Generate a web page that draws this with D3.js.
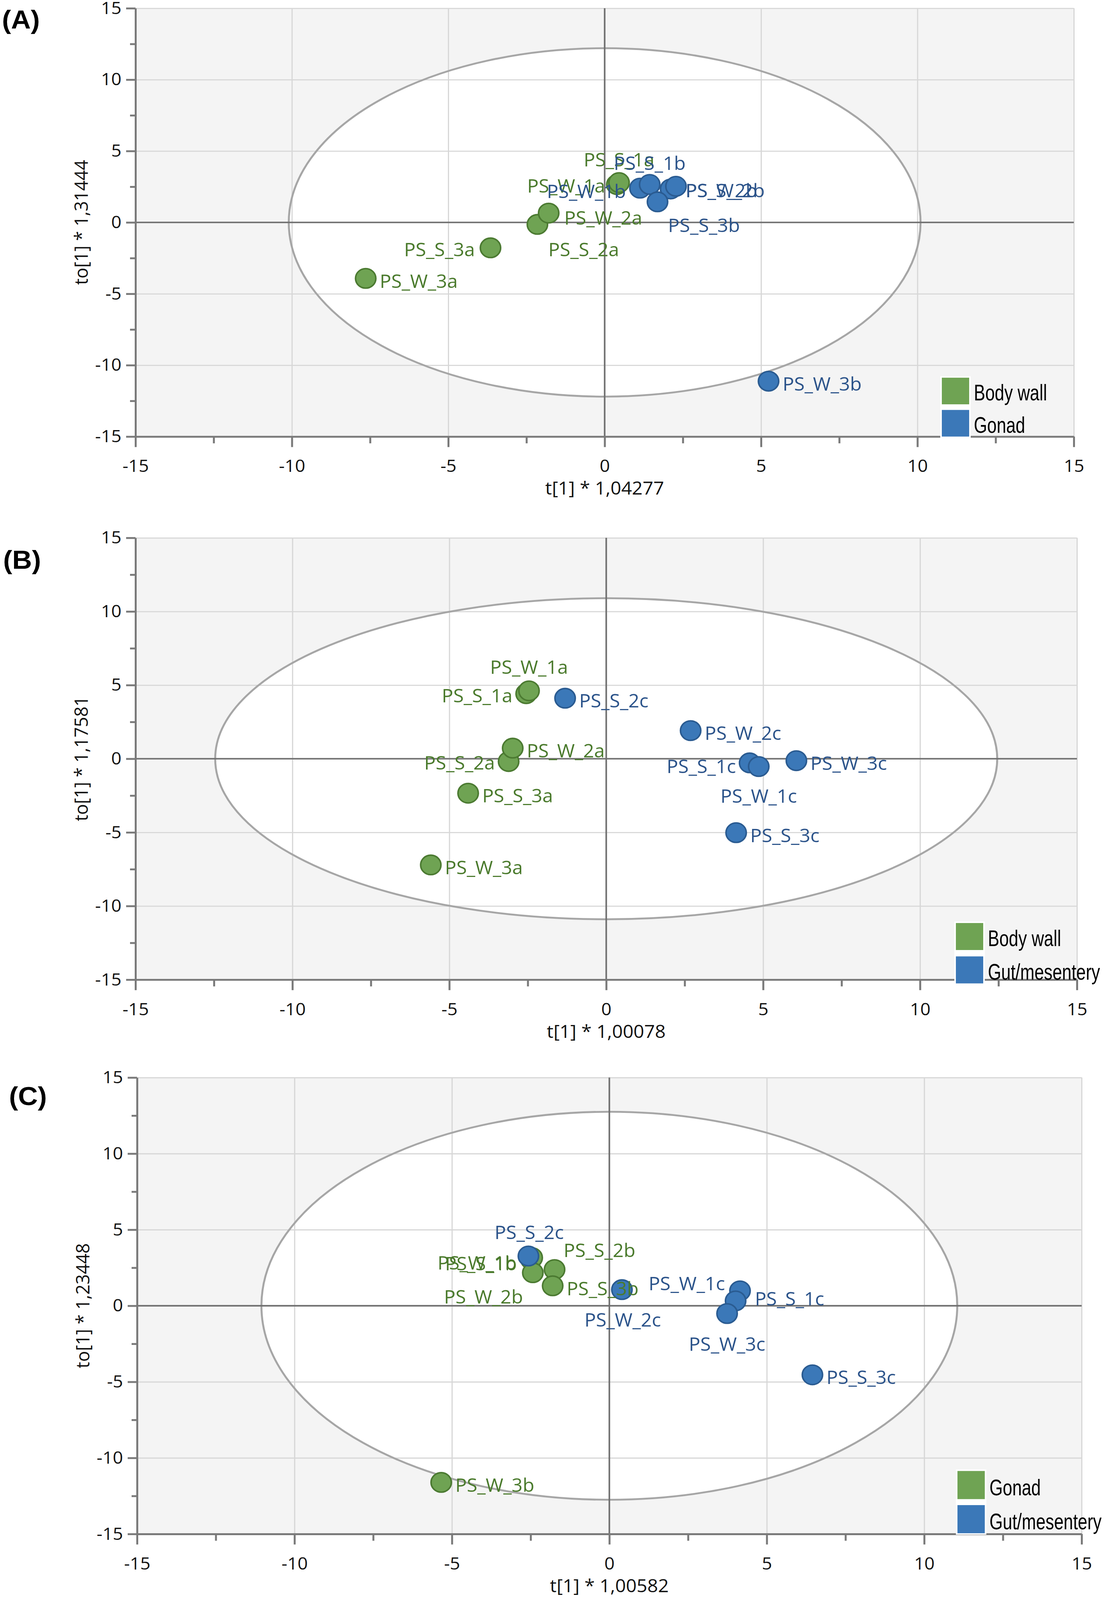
<!DOCTYPE html>
<html>
<head>
<meta charset="utf-8">
<script src="https://cdn.jsdelivr.net/npm/d3@7"></script>
<style>
  html, body { margin: 0; padding: 0; background: #fff; overflow: hidden; }
  svg { display: block; }
</style>
</head>
<body>
<div id="chart"></div>
<script>
//ticks
const majorTicks = [-15, -10, -5, 0, 5, 10, 15];
const minorTicks = [-12.5, -7.5, -2.5, 2.5, 7.5, 12.5];
const tickLabels = ["-15", "-10", "-5", "0", "5", "10", "15"];

//texts
const panelTags = ["(A)", "(B)", "(C)"];
const xTitles = ["t[1] * 1,04277", "t[1] * 1,00078", "t[1] * 1,00582"];
const yTitles = ["to[1] * 1,31444", "to[1] * 1,17581", "to[1] * 1,23448"];
const legendLabels = [["Body wall", "Gonad"], ["Body wall", "Gut/mesentery"], ["Gonad", "Gut/mesentery"]];

//Hotelling T2 ellipse half axes (t, to)
const ellipseRadii = [[10.1, 12.2], [12.46, 10.9], [11.05, 12.75]];

//panel A scores (group 0 = green, 1 = blue)
const namesA = ["PS_W_1a", "PS_S_1a", "PS_S_2a", "PS_W_2a", "PS_S_3a", "PS_W_3a",
                "PS_W_1b", "PS_S_1b", "PS_S_2b", "PS_W_2b", "PS_S_3b", "PS_W_3b"];
const tA  = [0.39, 0.46, -2.15, -1.79, -3.65, -7.64, 1.13, 1.44, 2.11, 2.28, 1.69, 5.24];
const toA = [2.65, 2.79, -0.14, 0.65, -1.78, -3.92, 2.40, 2.66, 2.34, 2.53, 1.44, -11.12];
const groupA = [0, 0, 0, 0, 0, 0, 1, 1, 1, 1, 1, 1];

//panel B scores
const namesB = ["PS_S_1a", "PS_W_1a", "PS_S_2a", "PS_W_2a", "PS_S_3a", "PS_W_3a",
                "PS_S_2c", "PS_W_2c", "PS_S_1c", "PS_W_1c", "PS_W_3c", "PS_S_3c"];
const tB  = [-2.55, -2.46, -3.11, -2.98, -4.40, -5.59, -1.31, 2.69, 4.57, 4.86, 6.06, 4.14];
const toB = [4.42, 4.61, -0.19, 0.72, -2.34, -7.21, 4.11, 1.91, -0.28, -0.53, -0.13, -5.02];
const groupB = [0, 0, 0, 0, 0, 0, 1, 1, 1, 1, 1, 1];

//panel C scores
const namesC = ["PS_S_1b", "PS_W_1b", "PS_S_2b", "PS_W_2b", "PS_S_3b", "PS_W_3b",
                "PS_S_2c", "PS_W_2c", "PS_S_1c", "PS_W_1c", "PS_W_3c", "PS_S_3c"];
const tC  = [-2.49, -2.45, -1.74, -2.43, -1.80, -5.34, -2.57, 0.40, 4.15, 4.01, 3.74, 6.45];
const toC = [3.05, 3.16, 2.38, 2.17, 1.31, -11.61, 3.27, 1.06, 0.98, 0.32, -0.51, -4.54];
const groupC = [0, 0, 0, 0, 0, 0, 1, 1, 1, 1, 1, 1];

//label offsets from the point centre [dx, dy, anchor]; default is right
const labelRight = [36, 6, "start"];
const labelPlace = [
  { "PS_S_1a": [0, -62, "middle"], "PS_W_1a": [-30, 2, "end"], "PS_S_1b": [0, -58, "middle"],
    "PS_W_1b": [-36, 8, "end"], "PS_S_2b": [38, 3, "start"], "PS_W_2b": [25, 10, "start"],
    "PS_S_3b": [27, 62, "start"], "PS_W_2a": [40, 12, "start"], "PS_S_2a": [28, 66, "start"],
    "PS_S_3a": [-40, 4, "end"] },
  { "PS_W_1a": [0, -64, "middle"], "PS_S_1a": [-35, 4, "end"], "PS_S_2a": [-35, 2, "end"],
    "PS_S_1c": [-35, 8, "end"], "PS_W_1c": [0, 78, "middle"] },
  { "PS_S_2c": [2, -64, "middle"], "PS_W_1b": [-40, 13, "end"], "PS_S_1b": [-36, 10, "end"],
    "PS_S_2b": [23, -52, "start"], "PS_W_2b": [-25, 63, "end"], "PS_W_2c": [2, 80, "middle"],
    "PS_S_1c": [38, 20, "start"], "PS_W_1c": [-27, -47, "end"], "PS_W_3c": [0, 80, "middle"] }
];

//page layout (in reference pixels, fitted to the window by the viewBox)
const width = 2835;
const height = 4266;
const layout = [
  { left: 347, right: 2750, top: 22, bottom: 1164, tag: [5, 76], legend: { x: 2412, y: 1007, h: 71, step: 86 } },
  { left: 347, right: 2758, top: 1434, bottom: 2612, tag: [8, 1516], legend: { x: 2448, y: 2461, h: 72, step: 89 } },
  { left: 351, right: 2770, top: 2873, bottom: 4090, tag: [23, 2946], legend: { x: 2452, y: 3922, h: 75, step: 91 } }
];

const fill = ["#6fa353", "#3b78b8"];
const edge = ["#4b7a31", "#2a5b91"];
const textCol = ["#4a7a2c", "#2b538a"];
const font = "'Open Sans', 'Noto Sans', sans-serif";

const svg = d3.select("#chart")
  .append("svg")
  .attr("viewBox", `0 0 ${width} ${height}`)
  .attr("preserveAspectRatio", "none")
  .attr("width", window.innerWidth || width)
  .attr("height", window.innerHeight || height);

const panels = [
  { names: namesA, t: tA, to: toA, group: groupA },
  { names: namesB, t: tB, to: toB, group: groupB },
  { names: namesC, t: tC, to: toC, group: groupC }
];

panels.forEach((p, i) => {
  const box = layout[i];
  const g = svg.append("g");

  const x = d3.scaleLinear().domain([-15, 15]).range([box.left, box.right]);
  const y = d3.scaleLinear().domain([-15, 15]).range([box.bottom, box.top]);
  const w = box.right - box.left;
  const h = box.bottom - box.top;

  //plot background
  g.append("rect")
    .attr("x", x(-15)).attr("y", y(15))
    .attr("width", w).attr("height", h)
    .attr("fill", "#f4f4f4");

  //ellipse fill
  const [ra, rb] = ellipseRadii[i];
  g.append("ellipse")
    .attr("cx", x(0)).attr("cy", y(0))
    .attr("rx", x(ra) - x(0)).attr("ry", y(0) - y(rb))
    .attr("fill", "#fff");

  //grid
  g.append("g")
    .attr("transform", `translate(0,${box.bottom})`)
    .call(d3.axisBottom(x).tickValues(majorTicks).tickSize(-h).tickFormat(""))
    .call(a => a.select(".domain").remove())
    .selectAll("line").attr("stroke", "#d7d7d7").attr("stroke-width", 3);
  g.append("g")
    .attr("transform", `translate(${box.left},0)`)
    .call(d3.axisLeft(y).tickValues(majorTicks).tickSize(-w).tickFormat(""))
    .call(a => a.select(".domain").remove())
    .selectAll("line").attr("stroke", "#d7d7d7").attr("stroke-width", 3);

  //ellipse outline
  g.append("ellipse")
    .attr("cx", x(0)).attr("cy", y(0))
    .attr("rx", x(ra) - x(0)).attr("ry", y(0) - y(rb))
    .attr("fill", "none")
    .attr("stroke", "#a6a6a6")
    .attr("stroke-width", 5);

  //zero lines
  g.append("line")
    .attr("x1", x(-15)).attr("x2", x(15))
    .attr("y1", y(0)).attr("y2", y(0))
    .attr("stroke", "#6f6f6f").attr("stroke-width", 4);
  g.append("line")
    .attr("x1", x(0)).attr("x2", x(0))
    .attr("y1", y(-15)).attr("y2", y(15))
    .attr("stroke", "#6f6f6f").attr("stroke-width", 4);

  //axes
  const fmt = d => tickLabels[majorTicks.indexOf(d)];
  const xAxis = g.append("g")
    .attr("transform", `translate(0,${box.bottom})`)
    .call(d3.axisBottom(x).tickValues(majorTicks).tickFormat(fmt).tickSize(28).tickPadding(34).tickSizeOuter(0));
  g.append("g")
    .attr("transform", `translate(0,${box.bottom})`)
    .call(d3.axisBottom(x).tickValues(minorTicks).tickFormat("").tickSize(18))
    .call(a => a.select(".domain").remove())
    .selectAll("line").attr("stroke", "#7a7a7a").attr("stroke-width", 5);
  const yAxis = g.append("g")
    .attr("transform", `translate(${box.left},0)`)
    .call(d3.axisLeft(y).tickValues(majorTicks).tickFormat(fmt).tickSize(24).tickPadding(12).tickSizeOuter(0));
  g.append("g")
    .attr("transform", `translate(${box.left},0)`)
    .call(d3.axisLeft(y).tickValues(minorTicks).tickFormat("").tickSize(14))
    .call(a => a.select(".domain").remove())
    .selectAll("line").attr("stroke", "#7a7a7a").attr("stroke-width", 5);

  [xAxis, yAxis].forEach(a => {
    a.select(".domain").attr("stroke", "#7a7a7a").attr("stroke-width", 5);
    a.selectAll(".tick line").attr("stroke", "#7a7a7a").attr("stroke-width", 5);
    a.selectAll("text")
      .attr("fill", "#111")
      .style("font-family", font)
      .style("font-size", "46px");
  });

  //axis titles
  g.append("text")
    .attr("x", (box.left + box.right) / 2)
    .attr("y", box.bottom + 155)
    .attr("text-anchor", "middle")
    .attr("fill", "#111")
    .style("font-family", font)
    .style("font-size", "48px")
    .text(xTitles[i]);
  g.append("text")
    .attr("transform", `translate(${box.left - 122},${y(0)}) rotate(-90)`)
    .attr("text-anchor", "middle")
    .attr("fill", "#111")
    .style("font-family", font)
    .style("font-size", "48px")
    .text(yTitles[i]);

  //points
  const data = p.names.map((n, k) => ({ name: n, t: p.t[k], to: p.to[k], grp: p.group[k] }));
  g.append("g")
    .selectAll("circle")
    .data(data)
    .join("circle")
    .attr("cx", d => x(d.t))
    .attr("cy", d => y(d.to))
    .attr("r", 26)
    .attr("fill", d => fill[d.grp])
    .attr("stroke", d => edge[d.grp])
    .attr("stroke-width", 4);

  //point labels
  g.append("g")
    .selectAll("text")
    .data(data)
    .join("text")
    .each(function (d) {
      const pl = labelPlace[i][d.name] || labelRight;
      d3.select(this)
        .attr("x", x(d.t) + pl[0])
        .attr("y", y(d.to) + pl[1])
        .attr("text-anchor", pl[2]);
    })
    .attr("dominant-baseline", "central")
    .attr("fill", d => textCol[d.grp])
    .style("font-family", font)
    .style("font-size", "49px")
    .text(d => d.name);

  //legend
  const lg = box.legend;
  g.append("rect")
    .attr("x", lg.x - 4).attr("y", lg.y - 4)
    .attr("width", 78).attr("height", lg.step + lg.h + 8)
    .attr("fill", "#fff");
  legendLabels[i].forEach((lab, k) => {
    g.append("rect")
      .attr("x", lg.x).attr("y", lg.y + k * lg.step)
      .attr("width", 70).attr("height", lg.h)
      .attr("fill", fill[k]);
    g.append("text")
      .attr("transform", `translate(${lg.x + 82},${lg.y + k * lg.step + lg.h - 10}) scale(0.73,1)`)
      .attr("fill", "#000")
      .style("font-family", "'Liberation Sans', Arial, sans-serif")
      .style("font-size", "60px")
      .text(lab);
  });

  //panel tag
  g.append("text")
    .attr("x", box.tag[0])
    .attr("y", box.tag[1])
    .attr("fill", "#000")
    .style("font-family", "'Liberation Sans', Arial, sans-serif")
    .style("font-weight", "bold")
    .style("font-size", "70px")
    .text(panelTags[i]);
});
</script>
</body>
</html>
